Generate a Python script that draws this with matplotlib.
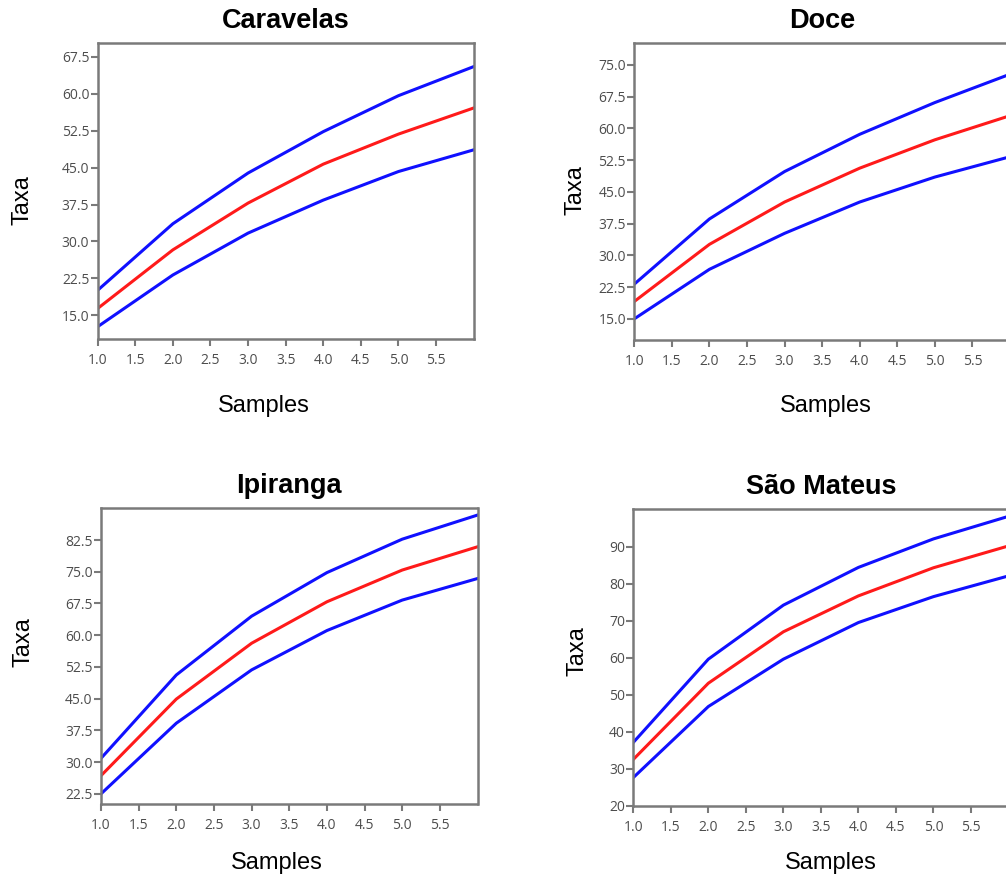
import matplotlib
matplotlib.use("Agg")
import matplotlib.pyplot as plt

# ---------------- data ----------------
samples = [1, 2, 3, 4, 5, 6]

caravelas_upper = [20.1, 33.6, 43.9, 52.3, 59.6, 65.5]
caravelas_mean = [16.4, 28.3, 37.8, 45.7, 51.8, 57.1]
caravelas_lower = [12.7, 23.2, 31.7, 38.4, 44.2, 48.6]

doce_upper = [23.2, 38.6, 49.8, 58.6, 66.1, 72.8]
doce_mean = [19.1, 32.6, 42.6, 50.6, 57.3, 63.0]
doce_lower = [15.0, 26.7, 35.2, 42.6, 48.5, 53.3]

ipiranga_upper = [30.9, 50.6, 64.5, 74.8, 82.7, 88.4]
ipiranga_mean = [26.8, 44.9, 58.1, 67.9, 75.4, 80.9]
ipiranga_lower = [22.5, 39.2, 51.8, 61.1, 68.3, 73.4]

saomateus_upper = [37.1, 59.6, 74.2, 84.4, 92.1, 98.2]
saomateus_mean = [32.5, 53.1, 67.0, 76.7, 84.3, 90.2]
saomateus_lower = [27.6, 46.8, 59.6, 69.5, 76.5, 82.1]

titles = ["Caravelas", "Doce", "Ipiranga", "São Mateus"]
x_ticks = [1.0, 1.5, 2.0, 2.5, 3.0, 3.5, 4.0, 4.5, 5.0, 5.5]
caravelas_yticks = [15.0, 22.5, 30.0, 37.5, 45.0, 52.5, 60.0, 67.5]
doce_yticks = [15.0, 22.5, 30.0, 37.5, 45.0, 52.5, 60.0, 67.5, 75.0]
ipiranga_yticks = [22.5, 30.0, 37.5, 45.0, 52.5, 60.0, 67.5, 75.0, 82.5]
saomateus_yticks = [20, 30, 40, 50, 60, 70, 80, 90]

# ---------------- layout ----------------
W, H = 1006, 881
fig = plt.figure(figsize=(W / 100, H / 100), dpi=100)

panels = [
    dict(title=titles[0], up=caravelas_upper, mean=caravelas_mean, low=caravelas_lower,
         yticks=caravelas_yticks, ylim=(10.2, 70.3), fmt="{:.1f}",
         box=(97.7, 43, 375.9, 296), taxa=(22.5, 200), samples=(264, 406)),
    dict(title=titles[1], up=doce_upper, mean=doce_mean, low=doce_lower,
         yticks=doce_yticks, ylim=(10.0, 80.1), fmt="{:.1f}",
         box=(634.3, 43.3, 375.7, 296.7), taxa=(575, 190), samples=(826, 406)),
    dict(title=titles[2], up=ipiranga_upper, mean=ipiranga_mean, low=ipiranga_lower,
         yticks=ipiranga_yticks, ylim=(20.1, 90.0), fmt="{:.1f}",
         box=(101, 508.3, 376.5, 295.7), taxa=(23, 642), samples=(277, 863)),
    dict(title=titles[3], up=saomateus_upper, mean=saomateus_mean, low=saomateus_lower,
         yticks=saomateus_yticks, ylim=(20.0, 100.1), fmt="{:.0f}",
         box=(633.3, 509.3, 375.2, 296.4), taxa=(577, 651), samples=(831, 863)),
]

spine_col = "#7a7a7a"
tick_col = "#4d4d4d"
main_font = "Liberation Sans"

for p in panels:
    x0, y0, w, h = p["box"]
    ax = fig.add_axes([x0 / W, 1 - (y0 + h) / H, w / W, h / H])
    ax.plot(samples, p["up"], color="#1010ff", lw=2.2, solid_joinstyle="round")
    ax.plot(samples, p["low"], color="#1010ff", lw=2.2, solid_joinstyle="round")
    ax.plot(samples, p["mean"], color="#ff1a1a", lw=2.2, solid_joinstyle="round")
    ax.set_xlim(1, 6)
    ax.set_ylim(*p["ylim"])
    ax.set_xticks(x_ticks)
    ax.set_xticklabels([f"{t:.1f}" for t in x_ticks])
    ax.set_yticks(p["yticks"])
    ax.set_yticklabels([p["fmt"].format(t) for t in p["yticks"]])
    for s in ax.spines.values():
        s.set_color(spine_col)
        s.set_linewidth(1.8)
    ax.tick_params(direction="out", length=5, width=1.5, color=spine_col,
                   labelcolor=tick_col, labelsize=10, pad=1)
    for lab in ax.get_xticklabels() + ax.get_yticklabels():
        lab.set_fontfamily("Open Sans")
    ax.tick_params(axis="x", pad=5)
    ax.set_title(p["title"], fontsize=19.5, fontweight="bold", family=main_font,
                 pad=11, color="black")
    tx, ty = p["taxa"]
    fig.text(tx / W, 1 - ty / H, "Taxa", rotation=90, ha="center", va="center",
             fontsize=17, family=main_font, color="black")
    sx, sy = p["samples"]
    fig.text(sx / W, 1 - sy / H, "Samples", ha="center", va="center",
             fontsize=17, family=main_font, color="black")

fig.savefig("out.png", dpi=100)
